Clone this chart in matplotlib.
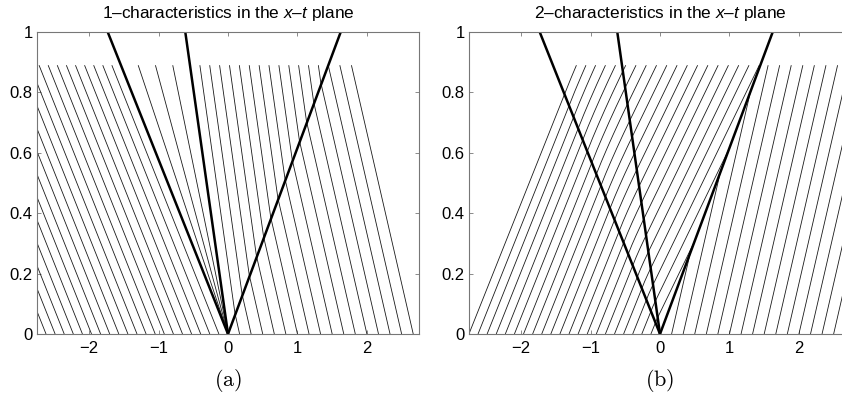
import matplotlib
matplotlib.use('Agg')
import matplotlib.pyplot as plt
from matplotlib.ticker import FixedLocator, FixedFormatter

plt.rcParams['font.family'] = ['Liberation Sans', 'DejaVu Sans']
plt.rcParams['mathtext.fontset'] = 'custom'
plt.rcParams['mathtext.it'] = 'Liberation Sans:italic'
plt.rcParams['mathtext.rm'] = 'Liberation Sans'

# ---- data ----
t_thin = 0.89            # thin characteristics are traced up to this time

# wave speeds (thick lines from the origin)
fan_head = -1.732        # left edge of the 1-rarefaction
fan_tail = -0.615        # right edge of the 1-rarefaction
shock = 1.623            # 2-shock
wave_speeds = [fan_head, fan_tail, shock]

# characteristic speeds in the constant states
lam1_left, lam1_mid, lam1_right = -1.732, -0.615, -1.0
lam2_left, lam2_mid, lam2_right = 1.732, 2.105, 1.0
c_left = 1.732           # sound speed of the left state (sets the fan)

# starting points of the thin characteristics on t = 0
x0_left = [-0.131, -0.262, -0.393, -0.524, -0.655, -0.786, -0.917, -1.048,
           -1.179, -1.310, -1.441, -1.572, -1.703, -1.834, -1.965, -2.096,
           -2.227, -2.358, -2.489, -2.620, -2.751]
x0_right = [0.167, 0.333, 0.500, 0.667, 0.833, 1.000, 1.167, 1.333, 1.500,
            1.667, 1.833, 2.000, 2.167, 2.333, 2.500, 2.667]
# 1-characteristics inside the rarefaction fan (speeds)
fan_speeds = [-1.453, -1.174, -0.894]

x_ticks = [-2, -1, 0, 1, 2]
x_tick_labels = ['\u22122', '\u22121', '0', '1', '2']
y_ticks = [0, 0.2, 0.4, 0.6, 0.8, 1]
y_tick_labels = ['0', '0.2', '0.4', '0.6', '0.8', '1']

titles = ['1\u2013characteristics in the $x$\u2013$t$ plane',
          '2\u2013characteristics in the $x$\u2013$t$ plane']
sub_labels = ['(a)', '(b)']


# ---- tracing helpers (piecewise paths through the wave pattern) ----
def trace(x0, speed_fn, stop_fn=None, nstep=445):
    dt = t_thin / nstep
    xs, ts = [x0], [0.0]
    x, t = x0, 0.0
    for _ in range(nstep):
        x = x + speed_fn(x, t) * dt
        t = t + dt
        xs.append(x)
        ts.append(t)
        if stop_fn is not None and stop_fn(x, t):
            break
    return xs, ts


def speed1_right(x, t):
    return lam1_right if x > shock * t else lam1_mid


def speed2_left(x, t):
    if t == 0 or x < fan_head * t:
        return lam2_left
    if x < fan_tail * t:
        return (4 * c_left + x / t) / 3.0
    return lam2_mid


def hit_shock_from_left(x, t):
    return x >= shock * t


def hit_shock_from_right(x, t):
    return x <= shock * t


# ---- figure ----
W, H = 842, 396
fig = plt.figure(figsize=(W / 100, H / 100), dpi=100)

ax_w = 382
ax_h = 302
ax_bottom = 62
axes_left_px = [37, 469]
xlim = (-2.75, 2.75)

thin_kw = dict(color='#1a1a1a', lw=0.6, solid_capstyle='butt')
thick_kw = dict(color='black', lw=1.8, solid_capstyle='butt')


def setup(ax, title):
    ax.set_xlim(*xlim)
    ax.set_ylim(0, 1)
    ax.xaxis.set_major_locator(FixedLocator(x_ticks))
    ax.xaxis.set_major_formatter(FixedFormatter(x_tick_labels))
    ax.yaxis.set_major_locator(FixedLocator(y_ticks))
    ax.yaxis.set_major_formatter(FixedFormatter(y_tick_labels))
    ax.tick_params(direction='in', length=2.7, width=0.6, color='#777777',
                   top=True, right=True, labelsize=12, labelcolor='black')
    ax.tick_params(axis='x', pad=5)
    ax.tick_params(axis='y', pad=3)
    for sp in ax.spines.values():
        sp.set_color('#777777')
        sp.set_linewidth(0.8)
    ax.set_title(title, fontsize=12.4, pad=10)


for i, left_px in enumerate(axes_left_px):
    ax = fig.add_axes([left_px / W, ax_bottom / H, ax_w / W, ax_h / H])
    setup(ax, titles[i])
    if i == 0:
        for x0 in x0_left:
            ax.plot([x0, x0 + lam1_left * t_thin], [0, t_thin], **thin_kw)
        for s in fan_speeds:
            ax.plot([0, s * t_thin], [0, t_thin], **thin_kw)
        for x0 in x0_right:
            xs, ts = trace(x0, speed1_right)
            ax.plot(xs, ts, **thin_kw)
    else:
        for x0 in x0_left:
            xs, ts = trace(x0, speed2_left, hit_shock_from_left)
            ax.plot(xs, ts, **thin_kw)
        for x0 in x0_right:
            xs, ts = trace(x0, lambda x, t: lam2_right, hit_shock_from_right)
            ax.plot(xs, ts, **thin_kw)
    for s in wave_speeds:
        ax.plot([0, s * 1.2], [0, 1.2], **thick_kw)
    ax.set_ylim(0, 1)
    xc = (left_px + ax_w / 2) / W
    fig.text(xc, 15 / H, r'$\mathrm{' + sub_labels[i] + '}$', ha='center',
             va='center', fontsize=16, math_fontfamily='cm')

fig.savefig('out.png', dpi=100)
